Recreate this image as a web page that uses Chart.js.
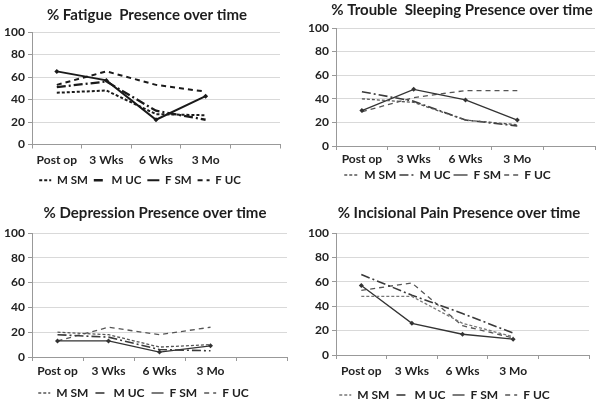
<!DOCTYPE html>
<html>
<head>
<meta charset="utf-8">
<script src="https://cdn.jsdelivr.net/npm/chart.js@4.4.1/dist/chart.umd.min.js"></script>
<style>
html, body { margin: 0; padding: 0; background: #fff; }
#wrap { position: relative; width: 600px; height: 402px; overflow: hidden; }
canvas { position: absolute; }
</style>
</head>
<body>
<div id="wrap">
  <canvas id="fatigueChart" width="300" height="200" style="left:0;top:0"></canvas>
  <canvas id="sleepChart" width="300" height="200" style="left:300px;top:0"></canvas>
  <canvas id="depressionChart" width="300" height="215" style="left:0;top:200px"></canvas>
  <canvas id="painChart" width="300" height="215" style="left:300px;top:200px"></canvas>
</div>
<script>
// time points (fifth slot is empty, like the original sheet)
const timeLabels = ['Post op', '3 Wks', '6 Wks', '3 Mo', ''];
const seriesNames = ['M SM', 'M UC', 'F SM', 'F UC'];
const yTicks = [0, 10, 20, 30, 40, 50, 60, 70, 80, 90, 100];

// % fatigue
const fatigueMSM = [46, 48, 27, 26];
const fatigueMUC = [51, 56, 30, 22];
const fatigueFSM = [65, 57, 22, 43];
const fatigueFUC = [53, 65, 53, 47];

// % trouble sleeping
const sleepMSM = [40, 37, 22, 18];
const sleepMUC = [46, 38, 22, 17];
const sleepFSM = [30, 48, 39, 22];
const sleepFUC = [29, 41, 47, 47];

// % depression
const depressionMSM = [20, 18, 8, 10];
const depressionMUC = [18, 16, 6, 5];
const depressionFSM = [13, 13, 4, 9];
const depressionFUC = [13, 24, 18, 24];

// % incisional pain
const painMSM = [48, 48, 26, 15];
const painMUC = [66, 49, 34, 18];
const painFSM = [57, 26, 17, 13];
const painFUC = [53, 59, 24, 14];

const FONT = 'Lato, "Open Sans", sans-serif';

// title drawn at a fixed spot (excel centres it over the whole chart box)
const panelTitle = {
    id: 'panelTitle',
    afterDraw(chart, args, opts) {
        const ctx = chart.ctx;
        ctx.save();
        ctx.font = 'bold 15px ' + FONT;
        ctx.fillStyle = '#1e1e1e';
        ctx.textAlign = 'center';
        ctx.textBaseline = 'middle';
        ctx.fillText(opts.text, opts.x, opts.y);
        ctx.restore();
    }
};

function makeDatasets(values, lw, colors) {
    const dashes = [[3, 2], [9, 3, 2, 3], [], [5, 4]];
    return values.map((v, i) => ({
        label: seriesNames[i],
        data: v,
        borderColor: colors[i],
        backgroundColor: colors[i],
        borderWidth: i == 1 ? lw + 0.3 : lw,
        borderDash: dashes[i],
        tension: 0,
        pointRadius: i == 2 ? 2.5 : 0,
        pointStyle: 'rectRot',
        pointBorderWidth: 0
    }));
}

// legend samples drawn as short lines with each series' dash
function legendItems(chart) {
    return chart.data.datasets.map((ds, i) => ({
        text: ds.label,
        fillStyle: ds.borderColor,
        strokeStyle: ds.borderColor,
        lineWidth: ds.borderWidth,
        lineDash: ds.borderDash,
        pointStyle: 'line',
        fontColor: '#222',
        hidden: false,
        datasetIndex: i
    }));
}

function makeChart(id, title, values, p) {
    return new Chart(document.getElementById(id), {
        type: 'line',
        data: {
            labels: timeLabels,
            datasets: makeDatasets(values, p.lw, p.colors)
        },
        plugins: [panelTitle],
        options: {
            responsive: false,
            animation: false,
            layout: { padding: { left: 0, right: p.padRight, top: p.padTop, bottom: p.padBottom } },
            plugins: {
                panelTitle: { text: title, x: p.titleX, y: p.titleY },
                legend: {
                    position: 'bottom',
                    labels: {
                        usePointStyle: true,
                        pointStyleWidth: p.boxW,
                        boxWidth: p.boxW,
                        boxHeight: 10,
                        padding: p.legendPad,
                        color: '#222',
                        font: { family: FONT, size: p.legendSize, weight: 'bold' },
                        generateLabels: legendItems
                    }
                },
                tooltip: { enabled: false }
            },
            scales: {
                x: {
                    offset: true,
                    grid: { display: true, drawOnChartArea: false, offset: true, tickLength: 4, color: '#999' },
                    border: { color: '#999' },
                    ticks: { color: '#222', padding: p.xPad, font: { family: FONT, size: 12, weight: 'bold' } },
                    afterFit: (s) => { s.height = p.xH; }
                },
                y: {
                    min: 0,
                    max: 100,
                    afterBuildTicks: (s) => { s.ticks = yTicks.map(v => ({ value: v })); },
                    grid: { color: '#d9d9d9', tickColor: '#999', tickLength: 4 },
                    border: { color: '#999' },
                    ticks: { color: '#222', padding: 3, font: { family: FONT, size: 12, weight: 'bold' } },
                    afterFit: (s) => { s.width = p.yW; }
                }
            }
        }
    });
}

const dark = ['#1a1a1a', '#1a1a1a', '#1a1a1a', '#1a1a1a'];
const soft = ['#555', '#3a3a3a', '#333', '#555'];

makeChart('fatigueChart', '% Fatigue  Presence over time',
    [fatigueMSM, fatigueMUC, fatigueFSM, fatigueFUC],
    { lw: 2, colors: dark, yW: 32, padRight: 20, padTop: 32, titleX: 147, titleY: 15.5, xH: 24, xPad: 4, boxW: 12, legendPad: 6, legendSize: 11.5, padBottom: 4 });

makeChart('sleepChart', '% Trouble  Sleeping Presence over time',
    [sleepMSM, sleepMUC, sleepFSM, sleepFUC],
    { lw: 1.3, colors: soft, yW: 36, padRight: 5, padTop: 28, titleX: 162, titleY: 10.5, xH: 20, xPad: 2, boxW: 14, legendPad: 3, legendSize: 12, padBottom: 9 });

makeChart('depressionChart', '% Depression Presence over time',
    [depressionMSM, depressionMUC, depressionFSM, depressionFUC],
    { lw: 1.3, colors: soft, yW: 32, padRight: 13, padTop: 33, titleX: 155, titleY: 13, xH: 23, xPad: 3, boxW: 12, legendPad: 7, legendSize: 12, padBottom: 6 });

makeChart('painChart', '% Incisional Pain Presence over time',
    [painMSM, painMUC, painFSM, painFUC],
    { lw: 1.3, colors: ['#777', '#3a3a3a', '#333', '#555'], yW: 36, padRight: 11, padTop: 33, titleX: 159, titleY: 13, xH: 27, xPad: 5, boxW: 12, legendPad: 7, legendSize: 12, padBottom: 4 });
</script>
</body>
</html>
